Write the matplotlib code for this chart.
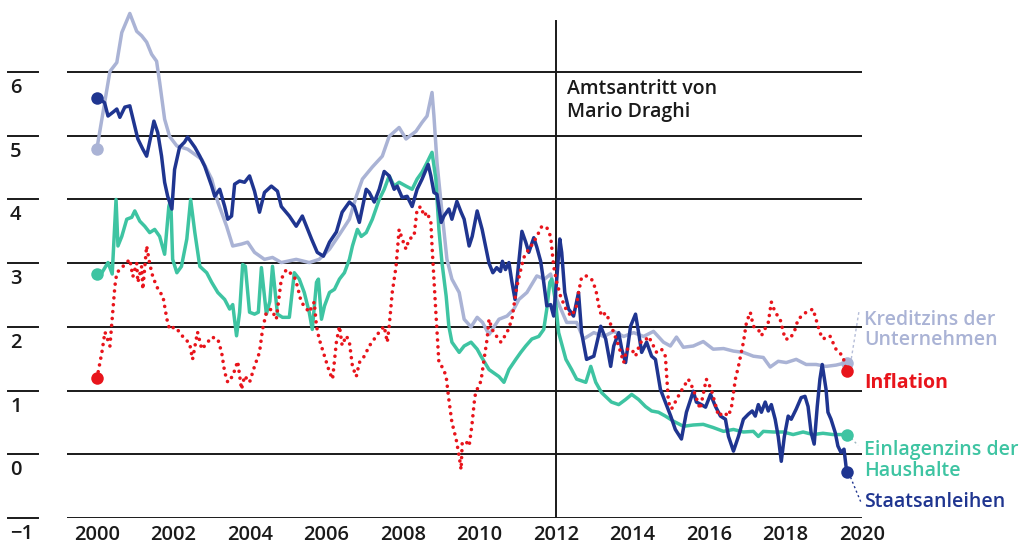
import matplotlib
matplotlib.use("Agg")
import matplotlib.pyplot as plt

plt.rcParams['font.family'] = ['Open Sans', 'DejaVu Sans']

# ---------------- data ----------------
kredit_years = [2000.0, 2000.34, 2000.52, 2000.65, 2000.86, 2001.04, 2001.17, 2001.30, 2001.43, 2001.56,
                2001.64, 2001.77, 2001.90, 2002.09, 2002.37, 2002.74, 2003.00, 2003.16, 2003.39, 2003.55,
                2003.78, 2003.94, 2004.12, 2004.38, 2004.59, 2004.82, 2005.21, 2005.55, 2005.81, 2006.08,
                2006.34, 2006.60, 2006.78, 2006.94, 2007.20, 2007.46, 2007.64, 2007.90, 2008.08, 2008.34,
                2008.50, 2008.63, 2008.76, 2008.81, 2008.89, 2009.02, 2009.15, 2009.28, 2009.47, 2009.60,
                2009.78, 2009.94, 2010.08, 2010.25, 2010.51, 2010.72, 2010.90, 2011.03, 2011.24, 2011.50,
                2011.70, 2011.86, 2012.02, 2012.28, 2012.54, 2012.72, 2012.99, 2013.25, 2013.51, 2013.77,
                2014.03, 2014.29, 2014.55, 2014.81, 2014.99, 2015.15, 2015.33, 2015.59, 2015.85, 2016.11,
                2016.38, 2016.64, 2016.90, 2017.16, 2017.42, 2017.60, 2017.81, 2018.02, 2018.28, 2018.54,
                2018.80, 2019.06, 2019.32, 2019.60]
kredit_vals = [4.80, 6.01, 6.15, 6.62, 6.92, 6.64, 6.57, 6.47, 6.28, 6.17,
               5.84, 5.26, 4.99, 4.84, 4.79, 4.63, 4.32, 3.96, 3.58, 3.27,
               3.30, 3.33, 3.17, 3.06, 3.09, 3.01, 3.06, 3.01, 3.06, 3.22,
               3.45, 3.69, 4.05, 4.32, 4.51, 4.68, 4.99, 5.13, 4.95, 5.07,
               5.21, 5.31, 5.68, 5.31, 4.58, 3.80, 3.06, 2.75, 2.54, 2.12,
               2.00, 2.15, 2.07, 1.88, 2.12, 2.17, 2.28, 2.43, 2.54, 2.80,
               2.75, 2.83, 2.43, 2.07, 2.07, 1.81, 1.91, 1.85, 1.93, 1.85,
               1.91, 1.85, 1.93, 1.76, 1.70, 1.84, 1.68, 1.70, 1.77, 1.65,
               1.66, 1.62, 1.60, 1.54, 1.52, 1.37, 1.46, 1.44, 1.49, 1.41,
               1.41, 1.38, 1.40, 1.44]

staat_years = [2000.0, 2000.2, 2000.29, 2000.42, 2000.52, 2000.60, 2000.73, 2000.86, 2000.99, 2001.07,
               2001.20, 2001.30, 2001.43, 2001.49, 2001.59, 2001.69, 2001.77, 2001.85, 2001.96, 2002.03,
               2002.16, 2002.29, 2002.37, 2002.56, 2002.69, 2002.82, 2003.00, 2003.08, 2003.21, 2003.34,
               2003.42, 2003.52, 2003.60, 2003.73, 2003.86, 2003.99, 2004.12, 2004.25, 2004.38, 2004.56,
               2004.72, 2004.82, 2005.03, 2005.21, 2005.37, 2005.61, 2005.76, 2005.92, 2006.08, 2006.26,
               2006.41, 2006.60, 2006.73, 2006.86, 2007.04, 2007.12, 2007.25, 2007.38, 2007.51, 2007.64,
               2007.77, 2007.85, 2007.98, 2008.11, 2008.24, 2008.37, 2008.50, 2008.66, 2008.73, 2008.81,
               2008.89, 2009.00, 2009.07, 2009.20, 2009.28, 2009.41, 2009.52, 2009.60, 2009.73, 2009.81,
               2009.94, 2010.07, 2010.25, 2010.35, 2010.45, 2010.55, 2010.60, 2010.68, 2010.77, 2010.85,
               2010.93, 2011.11, 2011.21, 2011.29, 2011.42, 2011.50, 2011.60, 2011.68, 2011.76, 2011.86,
               2011.94, 2012.02, 2012.10, 2012.15, 2012.23, 2012.33, 2012.46, 2012.59, 2012.67, 2012.80,
               2012.99, 2013.17, 2013.30, 2013.43, 2013.51, 2013.64, 2013.72, 2013.82, 2013.95, 2014.08,
               2014.16, 2014.24, 2014.37, 2014.50, 2014.60, 2014.73, 2014.86, 2015.00, 2015.12, 2015.28,
               2015.41, 2015.59, 2015.67, 2015.80, 2015.91, 2016.04, 2016.17, 2016.30, 2016.43, 2016.51,
               2016.64, 2016.77, 2016.90, 2017.03, 2017.13, 2017.21, 2017.29, 2017.37, 2017.47, 2017.55,
               2017.63, 2017.73, 2017.81, 2017.89, 2017.97, 2018.07, 2018.15, 2018.28, 2018.41, 2018.51,
               2018.59, 2018.67, 2018.75, 2018.83, 2018.90, 2018.96, 2019.06, 2019.11, 2019.19, 2019.30,
               2019.37, 2019.45, 2019.53, 2019.60]
staat_vals = [5.60, 5.52, 5.31, 5.37, 5.42, 5.29, 5.45, 5.47, 5.15, 4.95,
              4.79, 4.68, 5.05, 5.23, 5.05, 4.68, 4.27, 4.05, 3.85, 4.47,
              4.82, 4.90, 4.98, 4.82, 4.68, 4.52, 4.21, 4.05, 4.16, 3.89,
              3.69, 3.74, 4.24, 4.29, 4.27, 4.37, 4.13, 3.80, 4.11, 4.21,
              4.13, 3.89, 3.74, 3.58, 3.74, 3.38, 3.17, 3.11, 3.33, 3.49,
              3.80, 3.96, 3.89, 3.64, 4.16, 4.11, 3.96, 4.16, 4.44, 4.37,
              4.16, 4.21, 4.03, 4.05, 3.89, 4.16, 4.32, 4.55, 4.37, 4.11,
              4.08, 3.64, 3.74, 3.85, 3.69, 3.97, 3.80, 3.69, 3.27, 3.42,
              3.82, 3.53, 3.00, 2.85, 2.93, 2.87, 3.03, 2.90, 3.01, 2.70,
              2.43, 3.50, 3.33, 3.17, 3.40, 3.25, 3.03, 2.70, 2.33, 2.35,
              2.17, 2.75, 3.38, 3.17, 2.54, 2.28, 2.17, 2.54, 1.91, 1.49,
              1.54, 2.01, 1.81, 1.38, 1.70, 1.91, 1.65, 1.44, 2.01, 2.20,
              1.91, 1.60, 1.76, 1.54, 1.49, 1.02, 0.82, 0.60, 0.39, 0.24,
              0.66, 0.99, 0.82, 0.78, 0.74, 0.94, 0.75, 0.60, 0.55, 0.28,
              0.05, 0.28, 0.55, 0.63, 0.68, 0.60, 0.78, 0.66, 0.82, 0.68,
              0.78, 0.55, 0.28, -0.11, 0.28, 0.60, 0.55, 0.71, 0.89, 0.91,
              0.75, 0.34, 0.16, 0.75, 1.18, 1.41, 1.02, 0.66, 0.55, 0.34,
              0.13, 0.03, 0.08, -0.28]

einlage_years = [2000.0, 2000.13, 2000.29, 2000.40, 2000.50, 2000.55, 2000.65, 2000.78, 2000.91, 2000.99,
                 2001.12, 2001.25, 2001.38, 2001.51, 2001.64, 2001.77, 2001.88, 2001.93, 2001.98, 2002.09,
                 2002.21, 2002.35, 2002.45, 2002.56, 2002.69, 2002.87, 2003.00, 2003.16, 2003.34, 2003.47,
                 2003.55, 2003.65, 2003.73, 2003.81, 2003.88, 2003.99, 2004.12, 2004.22, 2004.30, 2004.43,
                 2004.52, 2004.59, 2004.72, 2004.85, 2005.03, 2005.16, 2005.29, 2005.42, 2005.55, 2005.63,
                 2005.74, 2005.79, 2005.87, 2005.95, 2006.08, 2006.21, 2006.34, 2006.47, 2006.60, 2006.68,
                 2006.81, 2006.91, 2007.04, 2007.20, 2007.38, 2007.51, 2007.64, 2007.77, 2007.90, 2008.08,
                 2008.24, 2008.37, 2008.50, 2008.63, 2008.76, 2008.86, 2008.94, 2009.02, 2009.13, 2009.20,
                 2009.28, 2009.47, 2009.60, 2009.78, 2009.94, 2010.04, 2010.25, 2010.51, 2010.64, 2010.77,
                 2010.95, 2011.08, 2011.21, 2011.37, 2011.55, 2011.68, 2011.76, 2011.84, 2011.89, 2011.99,
                 2012.07, 2012.26, 2012.41, 2012.54, 2012.78, 2012.91, 2013.04, 2013.19, 2013.45, 2013.64,
                 2013.82, 2013.98, 2014.16, 2014.34, 2014.50, 2014.68, 2014.86, 2015.07, 2015.33, 2015.59,
                 2015.85, 2016.11, 2016.38, 2016.64, 2016.90, 2017.16, 2017.29, 2017.42, 2017.68, 2017.94,
                 2018.20, 2018.46, 2018.72, 2018.98, 2019.24, 2019.60]
einlage_vals = [2.83, 2.85, 3.01, 2.83, 4.00, 3.27, 3.42, 3.69, 3.72, 3.82,
                3.66, 3.58, 3.48, 3.53, 3.42, 3.14, 3.89, 4.00, 3.06, 2.85,
                2.95, 3.38, 4.00, 3.48, 2.95, 2.85, 2.70, 2.54, 2.43, 2.28,
                2.35, 1.86, 2.23, 2.98, 2.95, 2.23, 2.20, 2.23, 2.93, 2.20,
                2.40, 2.95, 2.20, 2.15, 2.15, 2.85, 2.75, 2.54, 2.23, 1.96,
                2.70, 2.75, 2.12, 2.33, 2.54, 2.59, 2.75, 2.85, 3.06, 3.27,
                3.53, 3.42, 3.48, 3.69, 4.00, 4.16, 4.37, 4.21, 4.27, 4.21,
                4.16, 4.32, 4.43, 4.58, 4.74, 4.32, 3.53, 3.01, 2.48, 2.01,
                1.76, 1.60, 1.70, 1.76, 1.65, 1.54, 1.33, 1.22, 1.13, 1.33,
                1.49, 1.60, 1.70, 1.81, 1.85, 1.96, 2.28, 2.70, 2.75, 2.39,
                1.91, 1.49, 1.33, 1.18, 1.13, 1.38, 1.13, 0.97, 0.82, 0.78,
                0.86, 0.94, 0.86, 0.75, 0.68, 0.66, 0.60, 0.52, 0.44, 0.46,
                0.47, 0.42, 0.36, 0.39, 0.35, 0.36, 0.28, 0.36, 0.35, 0.35,
                0.31, 0.35, 0.31, 0.33, 0.31, 0.31]

infl_years = [2000.0, 2000.13, 2000.21, 2000.34, 2000.42, 2000.47, 2000.52, 2000.68, 2000.86, 2000.94,
              2001.04, 2001.07, 2001.17, 2001.20, 2001.30, 2001.38, 2001.46, 2001.56, 2001.64, 2001.72,
              2001.83, 2001.90, 2002.03, 2002.16, 2002.29, 2002.42, 2002.50, 2002.63, 2002.74, 2002.87,
              2003.00, 2003.16, 2003.26, 2003.34, 2003.42, 2003.55, 2003.68, 2003.78, 2003.86, 2003.99,
              2004.12, 2004.25, 2004.33, 2004.43, 2004.56, 2004.69, 2004.82, 2004.95, 2005.16, 2005.24,
              2005.34, 2005.55, 2005.68, 2005.74, 2005.81, 2005.95, 2006.08, 2006.16, 2006.26, 2006.34,
              2006.41, 2006.52, 2006.60, 2006.68, 2006.78, 2006.86, 2006.99, 2007.12, 2007.25, 2007.38,
              2007.51, 2007.59, 2007.64, 2007.72, 2007.82, 2007.90, 2007.98, 2008.08, 2008.16, 2008.29,
              2008.37, 2008.47, 2008.55, 2008.63, 2008.73, 2008.76, 2008.81, 2008.86, 2008.94, 2009.05,
              2009.13, 2009.20, 2009.28, 2009.39, 2009.47, 2009.52, 2009.55, 2009.65, 2009.73, 2009.80,
              2009.88, 2009.94, 2010.04, 2010.12, 2010.20, 2010.25, 2010.33, 2010.45, 2010.56, 2010.72,
              2010.85, 2010.90, 2010.98, 2011.08, 2011.16, 2011.29, 2011.42, 2011.55, 2011.63, 2011.76,
              2011.86, 2011.94, 2012.02, 2012.12, 2012.26, 2012.39, 2012.52, 2012.59, 2012.67, 2012.80,
              2012.93, 2013.04, 2013.12, 2013.19, 2013.30, 2013.38, 2013.51, 2013.64, 2013.77, 2013.85,
              2013.98, 2014.08, 2014.21, 2014.29, 2014.42, 2014.50, 2014.63, 2014.76, 2014.86, 2014.94,
              2015.02, 2015.25, 2015.46, 2015.59, 2015.77, 2015.93, 2016.06, 2016.25, 2016.38, 2016.51,
              2016.59, 2016.69, 2016.77, 2016.90, 2016.98, 2017.08, 2017.16, 2017.29, 2017.37, 2017.55,
              2017.63, 2017.73, 2017.86, 2017.99, 2018.12, 2018.25, 2018.33, 2018.54, 2018.72, 2018.90,
              2018.98, 2019.16, 2019.32, 2019.50, 2019.60]
infl_vals = [1.19, 1.60, 1.92, 1.70, 2.28, 2.64, 2.85, 2.95, 3.06, 2.79,
             3.00, 2.70, 2.95, 2.59, 3.27, 2.99, 2.79, 2.64, 2.54, 2.50,
             2.12, 1.96, 2.00, 1.92, 1.81, 1.75, 1.49, 1.92, 1.65, 1.74,
             1.84, 1.81, 1.60, 1.29, 1.13, 1.23, 1.46, 1.02, 1.23, 1.13,
             1.38, 1.60, 1.96, 2.23, 2.28, 2.12, 2.75, 2.90, 2.79, 2.64,
             2.39, 2.23, 2.39, 2.01, 1.81, 1.54, 1.29, 1.18, 1.76, 2.01,
             1.71, 1.86, 1.76, 1.38, 1.22, 1.44, 1.54, 1.70, 1.81, 1.92,
             2.01, 1.76, 2.01, 2.54, 2.95, 3.53, 3.38, 3.22, 3.38, 3.42,
             3.85, 3.89, 3.74, 3.80, 3.64, 3.27, 2.75, 2.23, 1.44, 1.35,
             1.22, 0.86, 0.50, 0.24, -0.03, -0.24, 0.19, 0.20, 0.13, 0.44,
             0.91, 1.02, 1.15, 1.49, 1.81, 2.12, 1.96, 1.85, 1.76, 1.91,
             2.12, 2.33, 2.64, 2.90, 3.09, 3.22, 3.33, 3.48, 3.58, 3.56,
             3.42, 2.95, 2.70, 2.48, 2.28, 2.17, 2.28, 2.54, 2.78, 2.80,
             2.75, 2.59, 2.33, 2.17, 2.22, 2.12, 1.91, 1.70, 1.44, 1.65,
             1.65, 1.54, 1.76, 1.76, 1.85, 1.76, 1.60, 1.65, 1.54, 0.82,
             0.71, 0.97, 1.18, 1.02, 0.71, 1.18, 1.02, 0.60, 0.66, 0.60,
             0.75, 1.18, 1.38, 1.76, 2.07, 2.23, 2.01, 1.96, 1.86, 2.07,
             2.39, 2.23, 2.12, 1.81, 1.81, 1.96, 2.12, 2.23, 2.28, 1.91,
             1.81, 1.86, 1.65, 1.54, 1.30]

y_levels = [-1, 0, 1, 2, 3, 4, 5, 6]
y_labels = ['\u22121', '0', '1', '2', '3', '4', '5', '6']
x_ticks = [2000, 2002, 2004, 2006, 2008, 2010, 2012, 2014, 2016, 2018, 2020]
x_labels = [str(v) for v in x_ticks]
draghi_year = 2012

# ---------------- styling ----------------
C_KREDIT = '#aab3d5'
C_STAAT = '#1f3590'
C_EINL = '#3ec4a2'
C_INFL = '#e8141b'
C_GRID = '#1a1a1a'
C_TEXT = '#1a1a1a'
FS_TICK = 14.5
FS_LABEL = 14

W, H = 1025, 548
fig = plt.figure(figsize=(W / 100, H / 100), dpi=100)
ax = fig.add_axes([67 / W, 1 - 518 / H, 795 / W, 516 / H])
ax.set_xlim(1999.218, 2019.948)
ax.set_ylim(-1, 7.1)
for s in ax.spines.values():
    s.set_visible(False)
ax.set_yticks([])

# gridlines + left stubs + y labels
ytr = ax.get_yaxis_transform()
for lv, lb in zip(y_levels, y_labels):
    ax.axhline(lv, color=C_GRID, lw=1.4, zorder=1)
    ax.plot([-0.0742, -0.0365], [lv, lv], transform=ytr, color=C_GRID, lw=1.4, clip_on=False)
    ax.annotate(lb, xy=(-0.0717, lv), xycoords=ytr, xytext=(0, -16), textcoords='offset pixels',
                ha='left', va='center', fontsize=FS_TICK, fontweight='semibold', color=C_TEXT,
                annotation_clip=False)

ax.set_xticks(x_ticks)
ax.set_xticklabels(x_labels, fontsize=FS_TICK, fontweight='semibold', color=C_TEXT)
ax.tick_params(axis='x', length=0, pad=5)

# vertical Draghi line
ax.plot([draghi_year, draghi_year], [-1, 6.8], color=C_GRID, lw=1.4, zorder=1)
ax.text(2012.28, 5.55, 'Amtsantritt von\nMario Draghi', fontsize=FS_LABEL, color=C_TEXT,
        fontweight='semibold', ha='left', va='center', linespacing=1.2)

# series
lw = 2.5
ax.plot(kredit_years, kredit_vals, color=C_KREDIT, lw=lw, zorder=3, solid_joinstyle='round')
ax.plot(einlage_years, einlage_vals, color=C_EINL, lw=lw, zorder=4, solid_joinstyle='round')
ax.plot(staat_years, staat_vals, color=C_STAAT, lw=lw, zorder=5, solid_joinstyle='round')
ax.plot(infl_years, infl_vals, color=C_INFL, lw=2.6, zorder=6,
        linestyle=(0, (0.01, 1.9)), dash_capstyle='round')

# start/end dots
for yrs, vals, c, z in [(kredit_years, kredit_vals, C_KREDIT, 3),
                        (einlage_years, einlage_vals, C_EINL, 4),
                        (staat_years, staat_vals, C_STAAT, 5),
                        (infl_years, infl_vals, C_INFL, 6)]:
    ax.plot([yrs[0], yrs[-1]], [vals[0], vals[-1]], 'o', color=c, ms=9, zorder=z + 1,
            clip_on=False, markeredgewidth=0)

# leader lines
ax.plot([2019.72, 2019.92], [1.50, 2.24], color='#b5bdd8', lw=1.0, ls=(0, (2, 2)), clip_on=False, zorder=2)
ax.plot([2019.72, 2019.90], [0.25, 0.14], color='#9fb8c0', lw=1.0, ls=(0, (1.5, 2)), clip_on=False, zorder=2)
ax.plot([2019.70, 2019.97], [-0.36, -0.75], color=C_STAAT, lw=1.0, ls=(0, (1.5, 2)), clip_on=False, zorder=2)

# right labels
lx = 2020.05
ax.text(lx, 1.95, 'Kreditzins der\nUnternehmen', color=C_KREDIT, fontsize=FS_LABEL, ha='left',
        va='center', linespacing=1.05, clip_on=False, fontweight='semibold')
ax.text(lx, 1.12, 'Inflation', color=C_INFL, fontsize=FS_LABEL, ha='left', va='center', clip_on=False,
        fontweight='bold')
ax.text(lx, -0.10, 'Einlagenzins der\nHaushalte', color=C_EINL, fontsize=FS_LABEL, ha='left',
        va='center', linespacing=1.05, clip_on=False, fontweight='semibold')
ax.text(lx, -0.75, 'Staatsanleihen', color=C_STAAT, fontsize=FS_LABEL, ha='left', va='center',
        clip_on=False, fontweight='semibold')

fig.savefig('out.png', dpi=100)
